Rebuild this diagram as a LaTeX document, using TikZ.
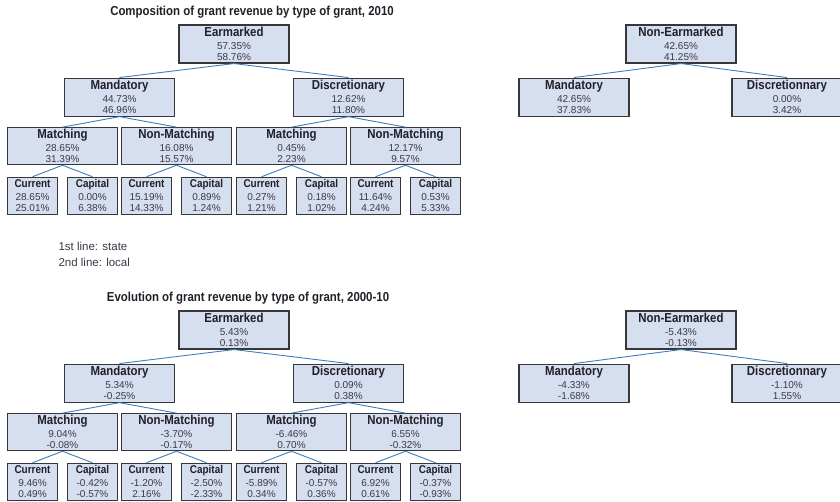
\documentclass[tikz,border=0pt]{standalone}
\usepackage{fontspec}
\setmainfont{Liberation Sans}
\newfontfamily\condfont{Liberation Sans}[FakeStretch=0.88]
\usepackage{tikz}
\usetikzlibrary{positioning}
\usepackage{xcolor}

\definecolor{boxfill}{RGB}{214,223,240}
\definecolor{boxline}{RGB}{55,55,58}
\definecolor{linkblue}{RGB}{62,125,190}
\definecolor{numtext}{RGB}{60,56,72}
\definecolor{headtext}{RGB}{34,31,40}

\newcommand{\granthd}{\condfont\bfseries\fontsize{13}{14}\selectfont\color{headtext}}
\newcommand{\leafhd}{\condfont\bfseries\fontsize{11.3}{12}\selectfont\color{headtext}}

\begin{document}
\begin{tikzpicture}[
    x=1pt, y=-1pt,
    grant/.style={rectangle, draw=boxline, line width=1.1pt, fill=boxfill,
    minimum width=110pt, minimum height=38pt, inner sep=1pt, align=center,
    font=\fontsize{10}{11.5}\selectfont, text=numtext},
    split/.style={grant, minimum height=37pt},
    leaf/.style={grant, minimum width=50pt, minimum height=37pt},
    link/.style={draw=linkblue, line width=0.9pt},
    title/.style={font=\condfont\bfseries\fontsize{13}{14}\selectfont, text=headtext},
]
\useasboundingbox (0,0) rectangle (840,502);

% composition, 2010
\node[title] (ctitle) at (252,12) {Composition of grant revenue by type of grant, 2010};

\node[grant] (cear) at (234,44) {{\granthd Earmarked}\\[1pt]57.35\%\\58.76\%};
\node[grant, below=14pt of cear, xshift=-114.5pt] (cman) {{\granthd Mandatory}\\[1pt]44.73\%\\46.96\%};
\node[grant, below=14pt of cear, xshift=114.5pt] (cdis) {{\granthd Discretionary}\\[1pt]12.62\%\\11.80\%};

\node[split, below=10.5pt of cman, xshift=-57pt] (cmm) {{\granthd Matching}\\[1pt]28.65\%\\31.39\%};
\node[split, below=10.5pt of cman, xshift=57pt] (cmn) {{\granthd Non-Matching}\\[1pt]16.08\%\\15.57\%};
\node[split, below=10.5pt of cdis, xshift=-57pt] (cdm) {{\granthd Matching}\\[1pt]0.45\%\\2.23\%};
\node[split, below=10.5pt of cdis, xshift=57pt] (cdn) {{\granthd Non-Matching}\\[1pt]12.17\%\\9.57\%};

\node[leaf, below=11.5pt of cmm.south west, anchor=north west] (cmmcur) {{\leafhd Current}\\[1pt]28.65\%\\25.01\%};
\node[leaf, below=11.5pt of cmm.south east, anchor=north east] (cmmcap) {{\leafhd Capital}\\[1pt]0.00\%\\6.38\%};
\node[leaf, below=11.5pt of cmn.south west, anchor=north west] (cmncur) {{\leafhd Current}\\[1pt]15.19\%\\14.33\%};
\node[leaf, below=11.5pt of cmn.south east, anchor=north east] (cmncap) {{\leafhd Capital}\\[1pt]0.89\%\\1.24\%};
\node[leaf, below=11.5pt of cdm.south west, anchor=north west] (cdmcur) {{\leafhd Current}\\[1pt]0.27\%\\1.21\%};
\node[leaf, below=11.5pt of cdm.south east, anchor=north east] (cdmcap) {{\leafhd Capital}\\[1pt]0.18\%\\1.02\%};
\node[leaf, below=11.5pt of cdn.south west, anchor=north west] (cdncur) {{\leafhd Current}\\[1pt]11.64\%\\4.24\%};
\node[leaf, below=11.5pt of cdn.south east, anchor=north east] (cdncap) {{\leafhd Capital}\\[1pt]0.53\%\\5.33\%};

\node[grant] (cnon) at (681,44) {{\granthd Non-Earmarked}\\[1pt]42.65\%\\41.25\%};
\node[grant, below=14pt of cnon, xshift=-107pt] (cnman) {{\granthd Mandatory}\\[1pt]42.65\%\\37.83\%};
\node[grant, below=14pt of cnon, xshift=106pt] (cndis) {{\granthd Discretionnary}\\[1pt]0.00\%\\3.42\%};

\draw[link] (cear.south) -- (cman.north);
\draw[link] (cear.south) -- (cdis.north);
\draw[link] (cman.south) -- (cmm.north);
\draw[link] (cman.south) -- (cmn.north);
\draw[link] (cdis.south) -- (cdm.north);
\draw[link] (cdis.south) -- (cdn.north);
\draw[link] (cmm.south) -- (cmmcur.north);
\draw[link] (cmm.south) -- (cmmcap.north);
\draw[link] (cmn.south) -- (cmncur.north);
\draw[link] (cmn.south) -- (cmncap.north);
\draw[link] (cdm.south) -- (cdmcur.north);
\draw[link] (cdm.south) -- (cdmcap.north);
\draw[link] (cdn.south) -- (cdncur.north);
\draw[link] (cdn.south) -- (cdncap.north);
\draw[link] (cnon.south) -- (cnman.north);
\draw[link] (cnon.south) -- (cndis.north);

\node[anchor=west, align=left, font=\fontsize{11.5}{16}\selectfont, text=numtext] (legend) at (55,254) {1st line: state\\2nd line: local};

% evolution, 2000-10
\node[title] (etitle) at (248,298) {Evolution of grant revenue by type of grant, 2000-10};

\node[grant] (eear) at (234,330) {{\granthd Earmarked}\\[1pt]5.43\%\\0.13\%};
\node[grant, below=14pt of eear, xshift=-114.5pt] (eman) {{\granthd Mandatory}\\[1pt]5.34\%\\-0.25\%};
\node[grant, below=14pt of eear, xshift=114.5pt] (edis) {{\granthd Discretionary}\\[1pt]0.09\%\\0.38\%};

\node[split, below=10.5pt of eman, xshift=-57pt] (emm) {{\granthd Matching}\\[1pt]9.04\%\\-0.08\%};
\node[split, below=10.5pt of eman, xshift=57pt] (emn) {{\granthd Non-Matching}\\[1pt]-3.70\%\\-0.17\%};
\node[split, below=10.5pt of edis, xshift=-57pt] (edm) {{\granthd Matching}\\[1pt]-6.46\%\\0.70\%};
\node[split, below=10.5pt of edis, xshift=57pt] (edn) {{\granthd Non-Matching}\\[1pt]6.55\%\\-0.32\%};

\node[leaf, below=11.5pt of emm.south west, anchor=north west] (emmcur) {{\leafhd Current}\\[1pt]9.46\%\\0.49\%};
\node[leaf, below=11.5pt of emm.south east, anchor=north east] (emmcap) {{\leafhd Capital}\\[1pt]-0.42\%\\-0.57\%};
\node[leaf, below=11.5pt of emn.south west, anchor=north west] (emncur) {{\leafhd Current}\\[1pt]-1.20\%\\2.16\%};
\node[leaf, below=11.5pt of emn.south east, anchor=north east] (emncap) {{\leafhd Capital}\\[1pt]-2.50\%\\-2.33\%};
\node[leaf, below=11.5pt of edm.south west, anchor=north west] (edmcur) {{\leafhd Current}\\[1pt]-5.89\%\\0.34\%};
\node[leaf, below=11.5pt of edm.south east, anchor=north east] (edmcap) {{\leafhd Capital}\\[1pt]-0.57\%\\0.36\%};
\node[leaf, below=11.5pt of edn.south west, anchor=north west] (edncur) {{\leafhd Current}\\[1pt]6.92\%\\0.61\%};
\node[leaf, below=11.5pt of edn.south east, anchor=north east] (edncap) {{\leafhd Capital}\\[1pt]-0.37\%\\-0.93\%};

\node[grant] (enon) at (681,330) {{\granthd Non-Earmarked}\\[1pt]-5.43\%\\-0.13\%};
\node[grant, below=14pt of enon, xshift=-107pt] (enman) {{\granthd Mandatory}\\[1pt]-4.33\%\\-1.68\%};
\node[grant, below=14pt of enon, xshift=106pt] (endis) {{\granthd Discretionnary}\\[1pt]-1.10\%\\1.55\%};

\draw[link] (eear.south) -- (eman.north);
\draw[link] (eear.south) -- (edis.north);
\draw[link] (eman.south) -- (emm.north);
\draw[link] (eman.south) -- (emn.north);
\draw[link] (edis.south) -- (edm.north);
\draw[link] (edis.south) -- (edn.north);
\draw[link] (emm.south) -- (emmcur.north);
\draw[link] (emm.south) -- (emmcap.north);
\draw[link] (emn.south) -- (emncur.north);
\draw[link] (emn.south) -- (emncap.north);
\draw[link] (edm.south) -- (edmcur.north);
\draw[link] (edm.south) -- (edmcap.north);
\draw[link] (edn.south) -- (edncur.north);
\draw[link] (edn.south) -- (edncap.north);
\draw[link] (enon.south) -- (enman.north);
\draw[link] (enon.south) -- (endis.north);

\end{tikzpicture}
\end{document}
